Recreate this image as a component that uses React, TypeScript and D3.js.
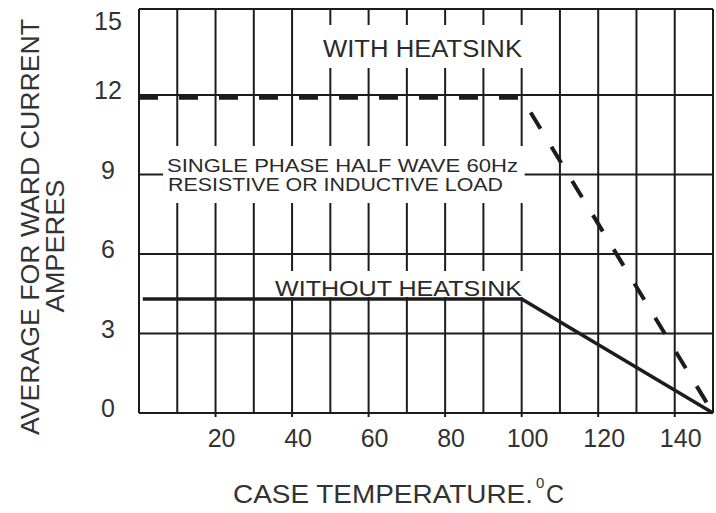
import React from 'react';
import * as d3 from 'd3';

type Pt = [number, number];

// values
const xTickValues = [20, 40, 60, 80, 100, 120, 140];
const yTickValues = [0, 3, 6, 9, 12, 15];
const withHeatsink: Pt[] = [[0, 11.9], [100, 11.9], [150, 0]];
const withoutHeatsink: Pt[] = [[1, 4.3], [100, 4.3], [150, 0]];

const W = 716, H = 513;
const font = '"Liberation Sans", Arial, Helvetica, sans-serif';

const App = () => {
    // the printed frame runs a little above 15
    const x = d3.scaleLinear().domain([0, 150]).range([139, 713]);
    const y = d3.scaleLinear().domain([0, 15.25]).range([413, 9]);

    const line = d3.line<Pt>().x(d => x(d[0])).y(d => y(d[1]));

    const vGrid = d3.range(0, 151, 10);
    const hGrid = d3.range(0, 13, 3);

    const ink = '#1c1c1c';

    return (
        <svg width={W} height={H} style={{ position: 'absolute', left: 0, top: 0, background: '#fff' }}>
            {/* grid + frame */}
            <g stroke={ink} strokeWidth={2}>
                {vGrid.map(v => (
                    <line key={'v' + v} x1={x(v)} x2={x(v)} y1={y(15.25)} y2={y(0)} />
                ))}
                {hGrid.map(v => (
                    <line key={'h' + v} x1={x(0)} x2={x(150)} y1={y(v)} y2={y(v)} />
                ))}
                <line x1={x(0)} x2={x(150)} y1={y(15.25)} y2={y(15.25)} />
                {xTickValues.map(v => (
                    <line key={'t' + v} x1={x(v)} x2={x(v)} y1={y(0)} y2={y(0) + 4} />
                ))}
            </g>

            {/* white label boxes over the grid */}
            <g fill="#fff">
                <rect x={x(47)} y={25} width={x(100) + 3 - x(47)} height={43} />
                <rect x={x(6.3)} y={146} width={x(100) + 3 - x(6.3)} height={57} />
                <rect x={x(35)} y={271} width={x(100) + 2 - x(35)} height={26} />
            </g>

            {/* curves */}
            <path d={line(withHeatsink)!} fill="none" stroke={ink} strokeWidth={4}
                strokeDasharray="19 21" />
            <path d={line(withoutHeatsink)!} fill="none" stroke={ink} strokeWidth={3.5} />

            {/* annotations */}
            <g fontFamily={font} fill="#2a2a2a">
                <text x={323} y={57} fontSize={23} textLength={199} lengthAdjust="spacingAndGlyphs">WITH  HEATSINK</text>
                <text x={167} y={172} fontSize={19} textLength={351} lengthAdjust="spacingAndGlyphs">SINGLE PHASE HALF WAVE 60Hz</text>
                <text x={168} y={191} fontSize={19} textLength={335} lengthAdjust="spacingAndGlyphs">RESISTIVE OR INDUCTIVE LOAD</text>
                <text x={275} y={296} fontSize={22} textLength={247} lengthAdjust="spacingAndGlyphs">WITHOUT HEATSINK</text>
            </g>

            {/* tick labels */}
            <g fontFamily={font} fill="#333" fontSize={25}>
                {yTickValues.map(v => (
                    <text key={'yl' + v} x={108} y={Math.max(y(v) - 5, 21)} textAnchor="middle" dominantBaseline="central">{v}</text>
                ))}
                {xTickValues.map(v => (
                    <text key={'xl' + v} x={x(v) + 6} y={447} textAnchor="middle">{v}</text>
                ))}
            </g>

            {/* axis titles */}
            <g fontFamily={font} fill="#333" fontSize={25}>
                <text x={233} y={503} textLength={300} lengthAdjust="spacingAndGlyphs">CASE TEMPERATURE.</text>
                <text x={536} y={488} fontSize={15}>0</text>
                <text x={546} y={503}>C</text>
                <text transform="translate(39,227) rotate(-90)" textAnchor="middle"
                    textLength={416} lengthAdjust="spacingAndGlyphs">AVERAGE FOR WARD CURRENT</text>
                <text transform="translate(64,246) rotate(-90)" textAnchor="middle"
                    textLength={133} lengthAdjust="spacingAndGlyphs">AMPERES</text>
            </g>
        </svg>
    );
};

export default App;
